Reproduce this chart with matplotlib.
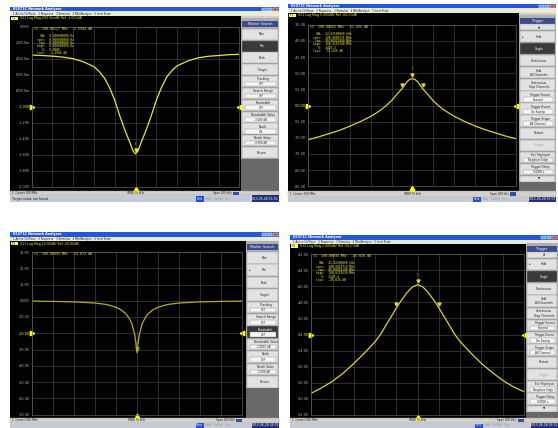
import matplotlib
matplotlib.use('Agg')
import matplotlib.pyplot as plt
from matplotlib.patches import Rectangle

# ---- values read off the four analyser screens ----
# x: offset from the 100 MHz centre in kHz (span 200 kHz)
tl_khz = [-100, -90, -80, -70, -60, -50, -40, -35, -30, -25, -20, -15, -10, -5, -2.5, 0,
          2.5, 5, 10, 15, 20, 25, 30, 35, 40, 50, 60, 70, 80, 90, 100]
tl_db = [-0.354, -0.36, -0.368, -0.38, -0.40, -0.44, -0.50, -0.56, -0.64, -0.76, -0.92,
         -1.12, -1.30, -1.46, -1.55, -1.59,
         -1.55, -1.46, -1.30, -1.12, -0.92, -0.76, -0.63, -0.55, -0.49, -0.43, -0.39,
         -0.37, -0.36, -0.35, -0.345]
tl_ticks = ['0.000', '-200.0m', '-400.0m', '-600.0m', '-800.0m', '-1.000',
            '-1.200', '-1.400', '-1.600', '-1.800', '-2.000']

tr_khz = [-100, -90, -80, -70, -60, -50, -40, -35, -30, -25, -20, -15, -10, -5, -2.5, 0,
          2.5, 5, 10, 15, 20, 25, 30, 35, 40, 50, 60, 70, 80, 90, 100]
tr_db = [-70.6, -69.7, -68.7, -67.7, -66.4, -65.0, -63.4, -62.4, -61.3, -60.0, -58.5,
         -56.6, -54.8, -52.6, -51.9, -51.7,
         -51.9, -52.6, -54.8, -56.6, -58.5, -60.0, -61.3, -62.3, -63.3, -64.9, -66.3,
         -67.5, -68.5, -69.5, -70.3]
tr_ticks = ['-35.00', '-40.00', '-45.00', '-50.00', '-55.00', '-60.00',
            '-65.00', '-70.00', '-75.00', '-80.00', '-85.00']

bl_khz = [-100, -80, -60, -50, -40, -30, -25, -20, -15, -10, -7.5, -5, -3.5, -2, -1, 0,
          1, 2, 3.5, 5, 7.5, 10, 15, 20, 25, 30, 40, 50, 60, 80, 100]
bl_db = [-0.2, -0.4, -0.7, -1.0, -1.4, -2.2, -3.0, -4.0, -5.6, -8.4, -10.8, -14.0,
         -17.5, -21.4, -26.5, -32.0,
         -26.5, -21.4, -17.5, -14.0, -10.8, -8.4, -5.6, -4.0, -3.0, -2.2, -1.4, -1.0,
         -0.7, -0.4, -0.2]
bl_ticks = ['30.00', '20.00', '10.00', '0.000', '-10.00', '-20.00',
            '-30.00', '-40.00', '-50.00', '-60.00', '-70.00']

br_khz = [-100, -90, -80, -70, -60, -50, -40, -35, -30, -25, -20, -15, -10, -5, 0,
          5, 10, 15, 20, 25, 30, 35, 40, 50, 60, 70, 80, 90, 100]
br_db = [-59.3, -58.6, -57.8, -56.8, -55.6, -54.3, -52.9, -52.0, -50.9, -49.8, -48.7,
         -47.7, -46.8, -46.1, -45.8,
         -46.1, -46.8, -47.7, -48.7, -49.8, -50.9, -52.0, -52.9, -54.3, -55.6, -56.7,
         -57.7, -58.5, -59.1]
br_ticks = ['-42.00', '-44.00', '-46.00', '-48.00', '-50.00', '-52.00',
            '-54.00', '-56.00', '-58.00', '-60.00', '-62.00']

search_items = ['Max', 'Min', 'Peak', 'Target', 'Tracking|OFF', 'Search Range|OFF',
                'Bandwidth|OFF', 'Bandwidth Value|-3.000 dB', 'Notch|ON',
                'Notch Value|-3.000 dB', 'Return']
search_items2 = ['Max', 'Min', 'Peak', 'Target', 'Tracking|OFF', 'Search Range|OFF',
                 'Bandwidth|OFF', 'Bandwidth Value|-3.0000 dB', 'Notch|OFF',
                 'Notch Value|-3.000 dB', 'Return']
trigger_items = ['\u25b2', 'Hold', 'Single', 'Continuous', 'Hold\nAll Channels',
                 'Continuous\nDisp Channels', 'Trigger Source|Internal',
                 'Trigger Event|On Sweep', 'Trigger Scope|All Channel', 'Restart',
                 'Trigger', 'Ext Trig Input|Negative Edge', 'Trigger Delay|0.0000 s',
                 '\u25bc']

W, H = 558, 428
fig = plt.figure(figsize=(W / 100, H / 100), dpi=100, facecolor='white')
bg = fig.add_axes([0, 0, 1, 1], zorder=0)
fg = fig.add_axes([0, 0, 1, 1], zorder=10)
for a in (bg, fg):
    a.set_xlim(0, W)
    a.set_ylim(H, 0)
    a.axis('off')


def rect(x0, y0, x1, y1, fc, ec='none', lw=0.3):
    bg.add_patch(Rectangle((x0, y0), x1 - x0, y1 - y0, fc=fc, ec=ec, lw=lw))


def txt(x, y, s, size=2.5, color='black', ha='left', **kw):
    fg.text(x, y, s, fontsize=size, color=color, ha=ha, va='center', **kw)


def side_panel(x0, x1, t0, t1, ya, yb, y1, title, items, dark, disabled=()):
    rect(x0, t0 - 3, x1, y1, '#b0b0b0')
    rect(x0 + 1, t0, x1 - 1, t1, '#3c4c8c')
    txt((x0 + x1) / 2, (t0 + t1) / 2, title, 2.4, 'white', 'center')
    weights = [0.55 if it in ('\u25b2', '\u25bc') else 1.0 for it in items]
    unit = (yb - ya) / sum(weights)
    y = ya
    for i, (it, w) in enumerate(zip(items, weights)):
        h = unit * w
        fc, tc = ('#3a3a3a', 'white') if i == dark else ('#e2e2e2', '#202020')
        if i in disabled:
            tc = '#a8a8a8'
        rect(x0 + 1, y + 0.4, x1 - 1, y + h - 0.4, fc, '#8a8a8a')
        if '|' in it:
            lab, val = it.split('|')
            txt((x0 + x1) / 2 + 3, y + h * 0.3, lab, 2.1, tc, 'center')
            rect(x0 + 4, y + h * 0.52, x1 - 3, y + h - 1.3, '#f6f6f6', '#909090')
            txt((x0 + x1) / 2 + 1, y + h * 0.73, val, 2.0, '#202020', 'center')
        else:
            txt((x0 + x1) / 2 + 2, y + h / 2, it, 2.1, tc, 'center', linespacing=1.1)
        if it in ('Min', 'Hold'):
            txt(x0 + 3, y + h / 2, '\u25b8', 2.2, '#202020')
        y += h
    rect(x0, yb, x1, y1, '#686868')


def window(p):
    x0, y0, x1, y1 = p['win']
    rect(x0, y0, x1, y1, '#d4d0c8')
    t0, t1 = p['title']
    rect(x0, t0, x1, t1, '#2458d8')
    txt(x0 + 3, (t0 + t1) / 2, 'E5071C Network Analyzer', 2.4, 'white', weight='bold')
    for k in range(3):
        bx = x1 - 17 + 5.5 * k
        rect(bx, t0 + 0.6, bx + 4.6, t1 - 0.6, '#d04a2a' if k == 2 else '#6c9cf0', 'white')
    m0, m1 = p['menu']
    rect(x0, m0, x1, m1, '#ece9d8')
    txt(x0 + 3, (m0 + m1) / 2,
        '1 Active Ch/Trace   2 Response   3 Stimulus   4 Mkr/Analysis   5 Instr State',
        1.9, '#202020')
    bx0, by0, bx1, by1 = p['black']
    rect(bx0, by0, bx1, by1, 'black')
    gx0, gy0, gx1, gy1 = p['grid']
    # trace header
    hy = by0 + 2.6
    rect(bx0 + 1, hy - 1.8, bx0 + 8, hy + 1.8, '#ffff40')
    txt(bx0 + 1.5, hy, 'Tr1', 2.0, 'black')
    txt(bx0 + 10, hy, p['header'], 2.3, '#f0f040')
    # marker readout
    rx = gx0 + 2
    lines = p['readout']
    txt(rx, gy0 + 2.2, lines[0], 2.3, '#f0f040', family='DejaVu Sans Mono')
    for k, ln in enumerate(lines[1:]):
        txt(rx + 3, gy0 + 9.5 + 3.3 * k, ln, 2.2, '#f0f040', family='DejaVu Sans Mono')

    # data area
    ax = fig.add_axes([gx0 / W, 1 - gy1 / H, (gx1 - gx0) / W, (gy1 - gy0) / H], zorder=5)
    ax.set_facecolor('black')
    lo, hi = p['ylim']
    ax.set_xlim(-100, 100)
    ax.set_ylim(lo, hi)
    ax.set_xticks(range(-100, 101, 20))
    ax.set_xticklabels([])
    ax.set_yticks([hi - i * (hi - lo) / 10 for i in range(11)])
    ax.set_yticklabels(p['ticks'], fontsize=2.4, color='#b8b8b8')
    ax.get_yticklabels()[5].set_color('#ffff30')
    ax.tick_params(length=0, pad=1.6)
    ax.grid(True, color='#404040', lw=0.5)
    for s in ax.spines.values():
        s.set_color('#5c5c5c')
        s.set_linewidth(0.5)
    khz, db = p['khz'], p['db']
    ax.plot(khz, db, color=p['color'], lw=0.9, solid_joinstyle='round')
    ref = hi - (hi - lo) / 2
    ax.plot([-100], [ref], '>', ms=3.2, color='#ffff00', clip_on=False)
    ax.plot([100], [ref], '<', ms=3.2, color='#ffff00', clip_on=False)
    ax.plot([0], [lo - 0.012 * (hi - lo)], '^', ms=3.4, color='#ffff00', clip_on=False)
    span = hi - lo
    for j, i in enumerate(p['marks']):
        ax.plot([khz[i]], [db[i] + 0.025 * span], 'v', ms=2.2, color=p['color'])
        if j == 0:
            ax.text(khz[i], db[i] + 0.05 * span, '1', fontsize=2.0, color=p['color'],
                    ha='center', va='bottom')

    # side panel
    sx0, sx1 = p['side']
    side_panel(sx0, sx1, *p['side_y'], by1, p['side_title'], p['items'], p['dark'],
               p.get('disabled', ()))
    # status bar and bottom strip
    s0, s1 = p['status']
    rect(x0, s0, x1, s1, '#d4d0c8', '#a0a0a0')
    sm = (s0 + s1) / 2
    txt(x0 + 2, sm, '1  Center 100 MHz', 2.0, '#202020')
    txt((gx0 + gx1) / 2, sm, 'IFBW 70 kHz', 2.0, '#202020', 'center')
    txt(gx1 - 8, sm, 'Span 200 kHz', 2.0, '#202020', 'right')
    rect(gx1 - 6, s0 + 0.8, gx1, s1 - 0.8, '#3050b0')
    q0, q1 = p['strip']
    rect(x0, q0, x1, q1, '#c4cad8')
    qm = (q0 + q1) / 2
    txt(x0 + 2, qm, p['strip_text'], 2.3, '#202020')
    hx = x0 + 0.69 * (x1 - x0)
    rect(hx, q0 + 0.5, hx + 8, q1 - 0.5, '#2050d0')
    txt(hx + 4, qm, p['state'], 2.0, 'white', 'center')
    txt(hx + 9, qm, 'Stim   ExtRef   Svc', 2.0, '#9098a8')
    rect(x1 - 27, q0, x1, q1, '#22327a')
    txt(x1 - 1, qm, p['date'], 2.2, 'white', 'right')


def idx(khz, v):
    return khz.index(v)


panels = [
    dict(win=(10, 7, 279, 202), title=(7, 11.3), menu=(11.3, 15.7), black=(10, 15.7, 241, 190.7),
         grid=(31.7, 26.7, 239.3, 186.7), ylim=(-2.0, 0.0), ticks=tl_ticks,
         header='S21 Log Mag 200.0mdB/ Ref -1.000dB',
         readout=['>1  100.00117 MHz  -1.5944 dB', '  BW:  0.000000000 Hz',
                  'cent:  0.000000000 Hz', ' low:  0.000000000 Hz', 'high:  0.000000000 Hz',
                  '   Q:  0.0000', 'loss:  -1.5944 dB'],
         khz=tl_khz, db=tl_db, color='#e8e828', marks=[idx(tl_khz, 0)],
         side=(241, 279), side_y=(20.5, 27.3, 28.3, 158.5), side_title='Marker Search',
         items=search_items, dark=1, status=(190.7, 195.3), strip=(195.3, 202),
         strip_text='Target value not found.', state='Hold', date='2013-05-28 15:06'),
    dict(win=(288, 4, 556, 202), title=(4, 8.3), menu=(8.3, 12.7), black=(288, 12.7, 518.5, 190.7),
         grid=(308.3, 24.8, 516.3, 186.2), ylim=(-85.0, -35.0), ticks=tr_ticks,
         header='S21 Log Mag 5.000dB/ Ref -60.00dB',
         readout=['>1  100.00625 MHz  -51.635 dB', '  BW:  22.62500000 kHz',
                  'cent:  100.0006275 MHz', ' low:  99.98923400 MHz', 'high:  100.0115340 MHz',
                  '   Q:  4420.3', 'loss:  -51.635 dB'],
         khz=tr_khz, db=tr_db, color='#dcd428',
         marks=[idx(tr_khz, 0), idx(tr_khz, -10), idx(tr_khz, 10)],
         side=(518.5, 556), side_y=(18, 24, 24, 182), side_title='Trigger',
         items=trigger_items, dark=2, disabled=(10,), status=(190.7, 196.7), strip=(196.7, 202),
         strip_text='', state='Hold', date='2013-05-28 15:07'),
    dict(win=(10, 232, 279, 428), title=(232, 236.7), menu=(236.7, 241), black=(10, 241, 246, 417.7),
         grid=(31.7, 252, 242.3, 414.5), ylim=(-70.0, 30.0), ticks=bl_ticks,
         header='S11 Log Mag 10.00dB/ Ref -20.00dB',
         readout=['>1  100.00093 MHz  -33.873 dB'],
         khz=bl_khz, db=bl_db, color='#b4ac24', marks=[idx(bl_khz, 0)],
         side=(246, 279), side_y=(243.5, 250, 251.5, 388), side_title='Marker Search',
         items=search_items2, dark=6, status=(417.7, 422.7), strip=(422.7, 428),
         strip_text='', state='Meas', date='2013-06-28 03:01'),
    dict(win=(290, 235, 558, 428), title=(235, 239.5), menu=(239.5, 243.5), black=(290, 243.5, 525.7, 417.7),
         grid=(311.3, 254, 524, 415), ylim=(-62.0, -42.0), ticks=br_ticks,
         header='S12 Log Mag 2.000dB/ Ref -52.00dB',
         readout=['>1  100.00093 MHz  -45.826 dB', '  BW:  41.02200000 kHz',
                  'cent:  100.0014710 MHz', ' low:  99.98094100 MHz', 'high:  100.0219510 MHz',
                  '   Q:  2438.4', 'loss:  -45.826 dB'],
         khz=br_khz, db=br_db, color='#dcd428',
         marks=[idx(br_khz, 0), idx(br_khz, -20), idx(br_khz, 20)],
         side=(525.7, 558), side_y=(245.5, 251.5, 251.5, 412), side_title='Trigger',
         items=trigger_items, dark=2, disabled=(10,), status=(417.7, 423), strip=(423, 428),
         strip_text='', state='Hold', date='2013-06-28 03:02'),
]

for p in panels:
    window(p)

fig.savefig('out.png', dpi=100, facecolor='white')
